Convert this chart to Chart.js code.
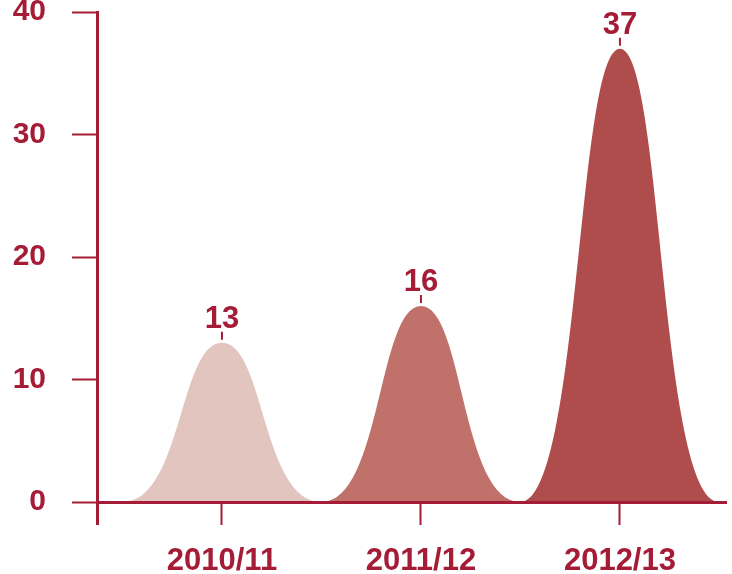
<!DOCTYPE html>
<html>
<head>
<meta charset="utf-8">
<script src="https://cdn.jsdelivr.net/npm/chart.js@4/dist/chart.umd.min.js"></script>
<style>
  html, body { margin: 0; padding: 0; background: #ffffff; }
  #wrap { width: 732px; height: 574px; position: relative; }
</style>
</head>
<body>
<div id="wrap"><canvas id="c"></canvas></div>
<script>
// ---- data ----
const categories = ['2010/11', '2011/12', '2012/13'];
const values = [13, 16, 37];
const yTickValues = [0, 10, 20, 30, 40];
const bellColors = ['#E2C5BF', '#C0726A', '#AF4D4C'];

const INK = '#A51C36';
const FAMILY = '"Liberation Sans", Arial, sans-serif';
const FONT_X = { family: FAMILY, size: 31, weight: 'bold' };
const FONT_Y = { family: FAMILY, size: 30, weight: 'bold' };
const FONT_LABEL = { family: FAMILY, size: 31, weight: 'bold' };

// bell outline control factors (style only)
const C_BASE = 0.6, C_TOP = 0.43, HALF = 0.5;

const bellPlugin = {
  id: 'bells',
  beforeDraw(chart) {
    const ctx = chart.ctx;
    const xs = chart.scales.x, ys = chart.scales.y;
    const base = ys.getPixelForValue(0);
    const meta = chart.getDatasetMeta(0);
    const W = xs.getPixelForValue(HALF) - xs.getPixelForValue(0);
    meta.data.forEach((pt, i) => {
      const cx = pt.x, top = pt.y;
      const L = cx - W, R = cx + W;
      ctx.save();
      ctx.beginPath();
      ctx.moveTo(L, base);
      ctx.bezierCurveTo(L + C_BASE * W, base, cx - C_TOP * W, top, cx, top);
      ctx.bezierCurveTo(cx + C_TOP * W, top, R - C_BASE * W, base, R, base);
      ctx.closePath();
      ctx.fillStyle = bellColors[i];
      ctx.fill();
      ctx.restore();
    });
  },
  afterDraw(chart) {
    const ctx = chart.ctx;
    const meta = chart.getDatasetMeta(0);
    meta.data.forEach((pt, i) => {
      ctx.save();
      ctx.strokeStyle = INK;
      ctx.lineWidth = 2;
      ctx.beginPath();
      ctx.moveTo(pt.x, pt.y - 3);
      ctx.lineTo(pt.x, pt.y - 11);
      ctx.stroke();
      ctx.fillStyle = INK;
      ctx.font = FONT_LABEL.weight + ' ' + FONT_LABEL.size + 'px ' + FONT_LABEL.family;
      ctx.textAlign = 'center';
      ctx.textBaseline = 'alphabetic';
      ctx.fillText(String(values[i]), pt.x, pt.y - 15);
      ctx.restore();
    });
  }
};

const X_MIN = -0.628, X_MAX = 2.533;

new Chart(document.getElementById('c'), {
  type: 'scatter',
  data: {
    datasets: [{
      data: values.map((v, i) => ({ x: i, y: v })),
      pointRadius: 0,
      pointHoverRadius: 0,
      showLine: false
    }]
  },
  options: {
    responsive: true,
    maintainAspectRatio: false,
    animation: false,
    events: [],
    layout: { padding: { top: 12, right: 6, left: 0, bottom: 0 } },
    plugins: { legend: { display: false }, tooltip: { enabled: false } },
    scales: {
      x: {
        type: 'linear',
        min: X_MIN,
        max: X_MAX,
        afterBuildTicks(scale) {
          scale.ticks = [X_MIN].concat(categories.map((c, i) => i)).map(v => ({ value: v }));
        },
        afterFit(scale) {
          scale.height = 72;
          scale.paddingLeft = 0;
          scale.paddingRight = 0;
        },
        border: { display: true, color: INK, width: 3 },
        grid: {
          drawOnChartArea: false,
          drawTicks: true,
          tickLength: 23,
          tickColor: INK,
          tickWidth: (ctx) => (ctx.index === 0 ? 3 : 2)
        },
        ticks: {
          autoSkip: false,
          maxRotation: 0,
          padding: 18,
          color: INK,
          font: FONT_X,
          callback: (v) => (categories[v] !== undefined ? categories[v] : '')
        }
      },
      y: {
        type: 'linear',
        min: 0,
        max: 40,
        afterBuildTicks(scale) {
          scale.ticks = yTickValues.map(v => ({ value: v }));
        },
        afterFit(scale) {
          scale.width = 97;
          scale.paddingTop = 0;
          scale.paddingBottom = 0;
        },
        border: { display: true, color: INK, width: 3 },
        grid: {
          drawOnChartArea: false,
          drawTicks: true,
          tickLength: 25,
          tickColor: INK,
          tickWidth: 2
        },
        ticks: {
          padding: 26,
          color: INK,
          font: FONT_Y
        }
      }
    }
  },
  plugins: [bellPlugin]
});
</script>
</body>
</html>
